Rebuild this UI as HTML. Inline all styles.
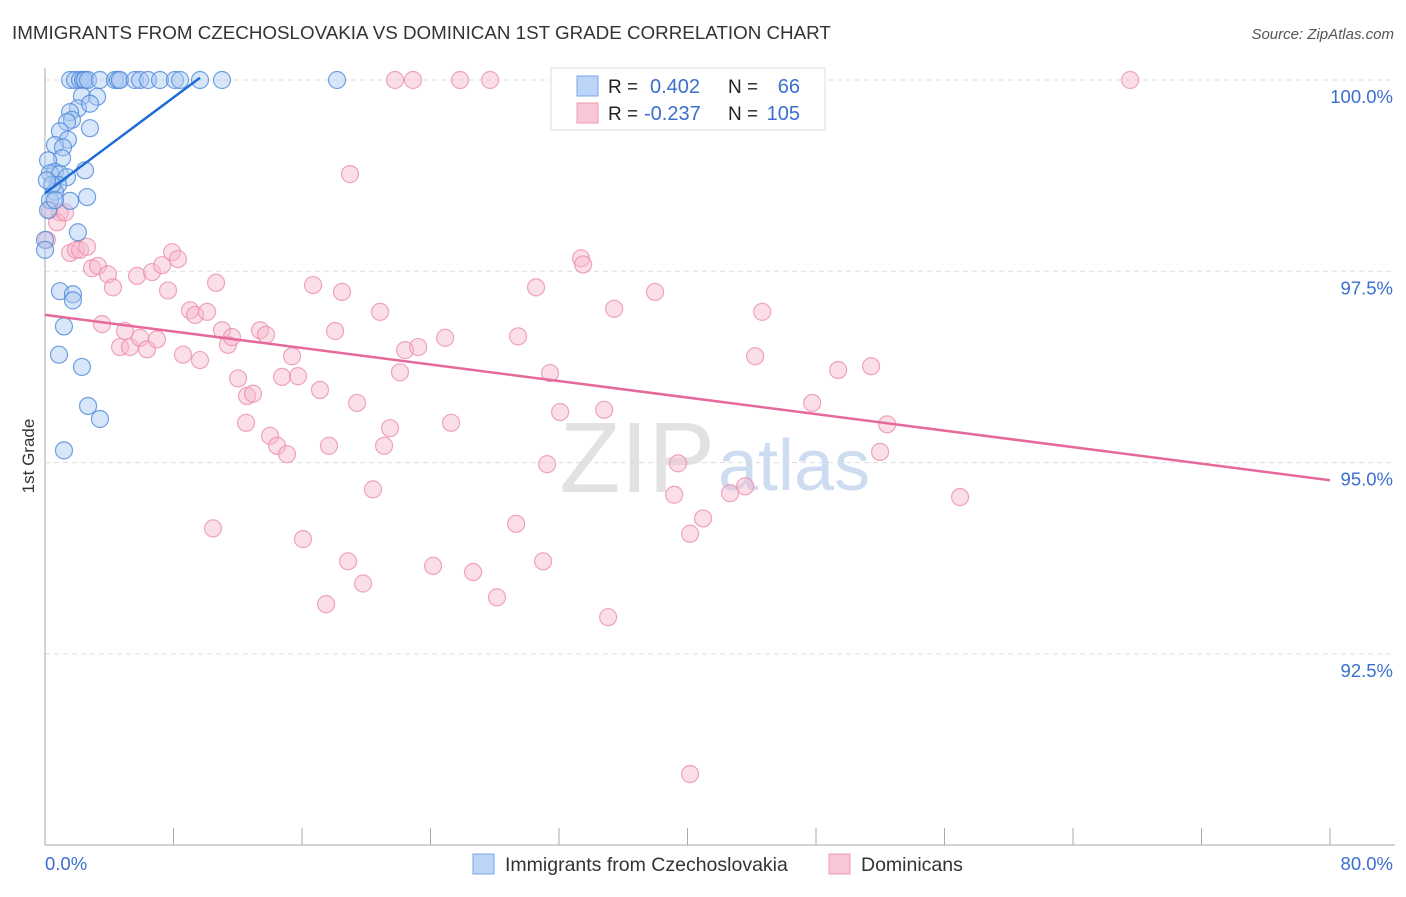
<!DOCTYPE html>
<html><head><meta charset="utf-8"><style>
body{margin:0;background:#fff;font-family:"Liberation Sans",sans-serif;}
svg text{font-family:"Liberation Sans",sans-serif;}
</style></head><body>
<svg id="chart" width="1406" height="892" xmlns="http://www.w3.org/2000/svg">
<text x="12" y="39" font-size="18.8" fill="#333">IMMIGRANTS FROM CZECHOSLOVAKIA VS DOMINICAN 1ST GRADE CORRELATION CHART</text>
<text x="1394" y="39" font-size="15" fill="#555" font-style="italic" text-anchor="end">Source: ZipAtlas.com</text>
<text x="715" y="492" font-size="100" fill="#e2e2e2" text-anchor="end" font-family="Liberation Serif">ZIP</text>
<text x="718" y="490" font-size="72" fill="#cddcf0">atlas</text>
<g id="grid"></g>
<g id="axes"></g>
<g id="pts"></g>
<g id="lines"></g>
<text transform="translate(34,456) rotate(-90)" font-size="17" fill="#333" text-anchor="middle">1st Grade</text>
<text x="45" y="870" font-size="18.5" fill="#3a6fd0">0.0%</text>
<text x="1393" y="870" font-size="18.5" fill="#3a6fd0" text-anchor="end">80.0%</text>
<g>
<rect x="551" y="68" width="274" height="62" fill="#fff" stroke="#ddd"/>
<rect x="577" y="76" width="21" height="20" fill="#bcd4f6" stroke="#7aa6e8"/>
<rect x="577" y="103" width="21" height="20" fill="#f9c6d6" stroke="#ef9ab5"/>
<text x="608" y="93" font-size="19" fill="#222">R = </text><text x="650" y="93" font-size="20" fill="#3a6fd0">0.402</text>
<text x="728" y="93" font-size="19" fill="#222">N = </text><text x="800" y="93" font-size="20" fill="#3a6fd0" text-anchor="end">66</text>
<text x="608" y="120" font-size="19" fill="#222">R = </text><text x="644" y="120" font-size="20" fill="#3a6fd0">-0.237</text>
<text x="728" y="120" font-size="19" fill="#222">N = </text><text x="800" y="120" font-size="20" fill="#3a6fd0" text-anchor="end">105</text>
</g>
<g>
<rect x="473" y="854" width="21" height="20" fill="#bcd4f6" stroke="#7aa6e8"/>
<text x="505" y="871" font-size="19.5" fill="#333">Immigrants from Czechoslovakia</text>
<rect x="829" y="854" width="21" height="20" fill="#f9c6d6" stroke="#ef9ab5"/>
<text x="861" y="871" font-size="19.5" fill="#333">Dominicans</text>
</g>
</svg>
<script>
const yTicks=[100,97.5,95,92.5];
const yTickLabels=["100.0%","97.5%","95.0%","92.5%"];
const xTicks=[0,8,16,24,32,40,48,56,64,72,80];
const blueX=[1.56,1.87,2.18,2.37,2.49,2.68,3.42,4.36,4.55,4.67,5.60,5.92,6.41,7.16,8.09,8.41,9.65,11.02,18.18,2.30,3.24,2.05,2.80,1.56,1.68,2.80,1.37,0.93,1.43,0.62,1.12,1.06,0.19,0.62,0.31,0.93,1.37,2.49,0.81,0.62,2.62,0.31,1.56,0.19,2.05,0.0,0.0,0.93,1.74,1.74,1.18,0.87,2.30,2.68,3.42,1.18,0.44,0.12,0.62];
const blueY=[100,100,100,100,100,100,100,100,100,100,100,100,100,100,100,100,100,100,100,99.79,99.78,99.63,99.69,99.58,99.48,99.37,99.45,99.33,99.22,99.15,99.12,98.98,98.95,98.80,98.78,98.77,98.73,98.82,98.63,98.54,98.47,98.43,98.42,98.30,98.01,97.91,97.78,97.24,97.20,97.12,96.78,96.41,96.25,95.74,95.57,95.16,98.63,98.69,98.43];
const pinkX=[0.12,0.31,0.93,0.75,1.25,1.56,1.93,2.18,2.62,2.93,3.30,3.92,4.23,4.98,3.55,4.67,5.29,5.73,6.66,5.92,6.35,6.97,7.29,7.66,7.91,8.28,8.59,9.03,9.34,9.65,10.09,10.65,11.02,11.39,11.64,12.02,12.58,12.95,12.52,13.39,13.76,14.01,14.45,14.76,15.07,15.38,15.75,10.46,16.06,16.69,17.12,17.50,17.68,18.06,18.49,18.87,18.99,19.43,19.80,20.42,20.86,21.11,21.48,21.79,22.10,22.42,22.91,23.23,24.16,24.91,25.28,25.84,26.65,27.71,28.14,29.33,29.45,30.57,31.01,31.26,31.44,32.07,32.38,33.37,33.50,34.81,35.06,35.43,37.98,39.17,39.41,40.16,40.16,40.97,42.65,43.59,44.21,44.65,45.33,47.76,49.38,51.43,51.99,52.43,56.97,67.56];
const pinkY=[97.91,98.30,98.27,98.14,98.27,97.74,97.78,97.78,97.82,97.54,97.57,97.46,97.29,96.72,96.81,96.51,96.51,97.44,97.49,96.63,96.48,96.61,97.58,97.25,97.75,97.66,96.41,96.99,96.93,96.34,96.97,97.35,96.73,96.54,96.64,96.10,95.87,95.90,95.52,96.73,96.67,95.35,95.22,96.12,95.11,96.39,96.13,94.14,94.00,97.32,95.95,93.15,95.22,96.72,97.23,93.71,98.77,95.78,93.42,94.65,96.97,95.22,95.45,100,96.18,96.47,100,96.51,93.65,96.63,95.52,100,93.57,100,93.24,94.20,96.65,97.29,93.71,94.98,96.17,95.66,100,97.67,97.59,95.69,92.98,97.01,97.23,94.58,94.99,94.07,90.93,94.27,94.60,94.69,96.39,96.97,100,95.78,96.21,96.26,95.14,95.50,94.55,100];
const blueTrend=[[0,98.52],[9.65,100.03]];
const pinkTrend=[[0,96.93],[80,94.77]];
const NS="http://www.w3.org/2000/svg";
const X=v=>45+v*(1285/80);
const Y=v=>80+(100-v)*76.52;
function mk(tag,attrs,parent){const e=document.createElementNS(NS,tag);for(const k in attrs)e.setAttribute(k,attrs[k]);parent.appendChild(e);return e;}
const grid=document.getElementById('grid'),axes=document.getElementById('axes'),pts=document.getElementById('pts'),lines=document.getElementById('lines');
yTicks.forEach((t,i)=>{
 const l=mk('line',{x1:45,x2:1395,y1:Y(t),y2:Y(t),stroke:'#ddd','stroke-dasharray':'5,4'},grid);
 
 
 const tx=mk('text',{x:1393,y:Y(t)+23,'font-size':18.5,fill:'#3a6fd0','text-anchor':'end'},grid);
 tx.textContent=yTickLabels[i];
 
 
});
const ya=mk('line',{x1:45,x2:45,y1:68,y2:845,stroke:'#aaa'},axes);


const xa=mk('line',{x1:45,x2:1395,y1:845,y2:845,stroke:'#aaa'},axes);


xTicks.forEach(t=>{
 const l=mk('line',{x1:X(t),x2:X(t),y1:828,y2:845,stroke:'#aaa'},axes);
 
 
});
function dots(xs,ys,fill,stroke,name){
 xs.forEach((x,i)=>{
  const c=mk('circle',{cx:X(x),cy:Y(ys[i]),r:8.5,fill:fill,'fill-opacity':0.45,stroke:stroke,'stroke-width':1.2,'stroke-opacity':0.8},pts);
  
  
 });
}
dots(pinkX,pinkY,'#f7b8cb','#ec8fac','dominican-point');
dots(blueX,blueY,'#a9c8f2','#4f8ad9','czech-point');
const bl=mk('line',{x1:X(blueTrend[0][0]),y1:Y(blueTrend[0][1]),x2:X(blueTrend[1][0]),y2:Y(blueTrend[1][1]),stroke:'#1f6bd6','stroke-width':2.5},lines);


const pl=mk('line',{x1:X(pinkTrend[0][0]),y1:Y(pinkTrend[0][1]),x2:X(pinkTrend[1][0]),y2:Y(pinkTrend[1][1]),stroke:'#e5699a','stroke-width':2.5},lines);


</script>
</body></html>
